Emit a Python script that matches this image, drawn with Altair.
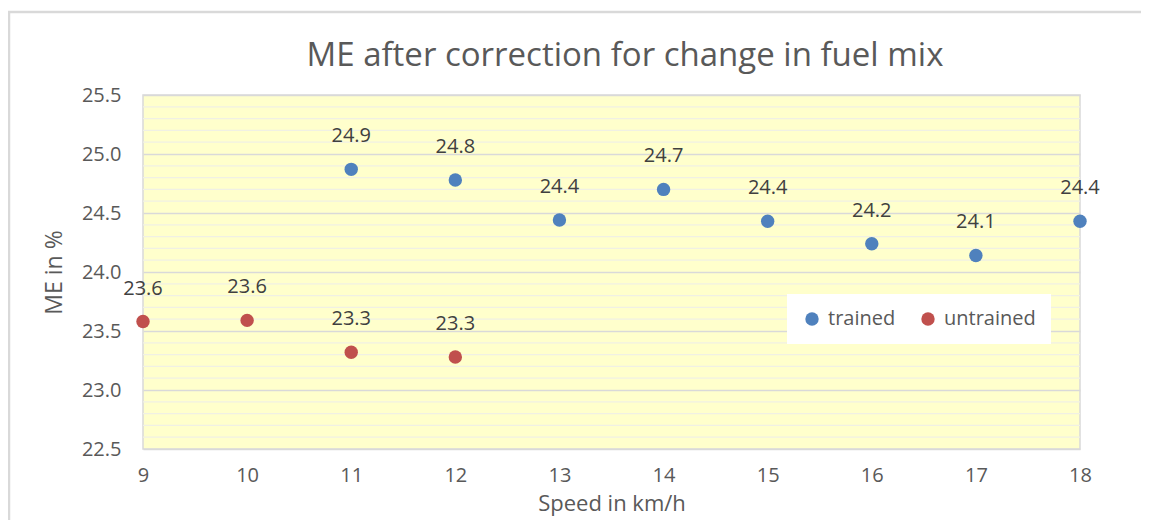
import altair as alt
import pandas as pd

speed_trained = [11, 12, 13, 14, 15, 16, 17, 18]
me_trained = [24.87, 24.78, 24.44, 24.70, 24.43, 24.24, 24.14, 24.43]
speed_untrained = [9, 10, 11, 12]
me_untrained = [23.58, 23.59, 23.32, 23.28]
groups = ["trained", "untrained"]
colors = ["#4F81BD", "#C0504D"]
y_major = [22.5, 23.0, 23.5, 24.0, 24.5, 25.0, 25.5]
y_minor = [round(22.5 + 0.1 * i, 1) for i in range(31) if i % 5 != 0]
x_ticks = list(range(9, 19))
title_text = "ME after correction for change in fuel mix"

df = pd.concat([
    pd.DataFrame({"speed": speed_trained, "me": me_trained, "group": "trained"}),
    pd.DataFrame({"speed": speed_untrained, "me": me_untrained, "group": "untrained"}),
])

FONT = "Open Sans"
GREY = "#595959"

x = alt.X("speed:Q", scale=alt.Scale(domain=[9, 18], nice=False, zero=False),
          axis=alt.Axis(values=x_ticks, format="d", title="Speed in km/h", grid=False,
                        ticks=False, domain=False, labelPadding=16, titlePadding=8,
                        labelFontSize=20, titleFontSize=22, labelColor=GREY,
                        titleColor=GREY, labelFont=FONT, titleFont=FONT,
                        titleFontWeight="normal", labelFlush=False))
y = alt.Y("me:Q", scale=alt.Scale(domain=[22.5, 25.5], nice=False, zero=False),
          axis=alt.Axis(values=y_major, format=".1f", title="ME in %", ticks=False,
                        domain=False, gridColor="#D9D9D9", gridWidth=1.3,
                        labelPadding=22, titlePadding=15,
                        labelFontSize=20, titleFontSize=23, labelColor=GREY,
                        titleColor=GREY, labelFont=FONT, titleFont=FONT,
                        titleFontWeight="normal"))

border = alt.Chart(pd.DataFrame({"a": [0]})).mark_rect(
    fillOpacity=0, stroke="#D9D9D9", strokeWidth=2.5, clip=False
).encode(x=alt.value(-134), x2=alt.value(1100), y=alt.value(-83), y2=alt.value(600))

minor = alt.Chart(pd.DataFrame({"me": y_minor})).mark_rule(
    color="#F0F0E4", strokeWidth=1.3
).encode(y=y)

title = alt.Chart(pd.DataFrame({"t": [title_text]})).mark_text(
    fontSize=33, font=FONT, color=GREY, align="center", baseline="alphabetic"
).encode(text="t:N", x=alt.value(482), y=alt.value(-29))

pts = alt.Chart(df).mark_circle(size=180, opacity=1).encode(
    x=x, y=y,
    color=alt.Color("group:N", scale=alt.Scale(domain=groups, range=colors),
                    legend=alt.Legend(title=None, orient="none", legendX=644, legendY=199,
                                      direction="horizontal", fillColor="white",
                                      padding=15, labelFontSize=20, labelFont=FONT,
                                      labelColor=GREY, symbolType="circle", symbolSize=180,
                                      labelOffset=6, columnPadding=22, symbolOpacity=1)),
)

labels = alt.Chart(df).mark_text(dy=-33, fontSize=20, font=FONT, color="#404040").encode(
    x=x, y=y, text=alt.Text("me:Q", format=".1f")
)

chart = alt.layer(border, minor, title, pts, labels).properties(
    width=937, height=354,
    background="white",
    autosize=alt.AutoSizeParams(type="none"),
    padding={"left": 135, "top": 87, "right": 61, "bottom": 71},
).configure_view(fill="#FFFFCC", stroke="#D9D9D9", strokeWidth=1.5)

chart.save("out.html", embed_options={"renderer": "svg", "actions": False})
